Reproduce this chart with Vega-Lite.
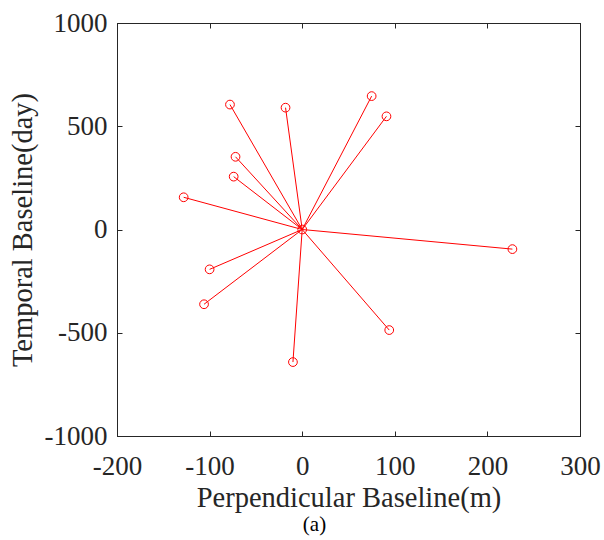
{
  "$schema": "https://vega.github.io/schema/vega-lite/v6.json",
  "width": 463,
  "height": 413,
  "autosize": {"type": "none"},
  "padding": {"left": 117, "top": 23, "right": 24, "bottom": 104},
  "background": "white",
  "config": {
    "view": {"stroke": "#262626", "strokeWidth": 1},
    "font": "Liberation Serif",
    "axis": {
      "grid": false,
      "domainColor": "#262626",
      "tickColor": "#262626",
      "tickSize": -5,
      "labelFlush": false,
      "labelOverlap": false,
      "labelExpr": "'' + datum.value",
      "labelFont": "Liberation Serif",
      "labelFontSize": 27,
      "labelColor": "#262626",
      "titleFont": "Liberation Serif",
      "titleFontSize": 28.5,
      "titleFontWeight": "normal",
      "titleColor": "#262626"
    }
  },
  "title": {
    "text": "(a)",
    "orient": "bottom",
    "frame": "group",
    "anchor": "middle",
    "dx": -34,
    "offset": 2,
    "font": "Liberation Serif",
    "fontSize": 21,
    "fontWeight": "normal",
    "color": "#000000"
  },
  "data": {
    "values": [
      {"bperp": 0, "btemp": 0},
      {"bperp": -78, "btemp": 605},
      {"bperp": -18, "btemp": 590},
      {"bperp": 75, "btemp": 646},
      {"bperp": 91, "btemp": 548},
      {"bperp": -72, "btemp": 352},
      {"bperp": -74, "btemp": 256},
      {"bperp": -128, "btemp": 156},
      {"bperp": 227, "btemp": -95},
      {"bperp": -100, "btemp": -193},
      {"bperp": -106, "btemp": -362},
      {"bperp": 94, "btemp": -487},
      {"bperp": -10, "btemp": -642}
    ]
  },
  "resolve": {"axis": {"x": "independent", "y": "independent"}},
  "layer": [
    {
      "mark": {"type": "rule", "color": "#ff0000", "strokeWidth": 1},
      "encoding": {
        "x": {
          "field": "bperp",
          "type": "quantitative",
          "scale": {"domain": [-200, 300], "nice": false},
          "axis": {
            "orient": "bottom",
            "values": [-200, -100, 0, 100, 200, 300],
            "labelPadding": 22,
            "title": "Perpendicular Baseline(m)",
            "titleBaseline": "alphabetic",
            "titleY": 70
          }
        },
        "y": {
          "field": "btemp",
          "type": "quantitative",
          "scale": {"domain": [-1000, 1000], "nice": false},
          "axis": {
            "orient": "left",
            "values": [-1000, -500, 0, 500, 1000],
            "labelPadding": 15,
            "title": "Temporal Baseline(day)",
            "titleBaseline": "alphabetic",
            "titleX": -86
          }
        },
        "x2": {"datum": 0},
        "y2": {"datum": 0}
      }
    },
    {
      "mark": {"type": "point", "shape": "circle", "filled": false, "color": "#ff0000", "size": 76, "strokeWidth": 1, "opacity": 1},
      "encoding": {
        "x": {
          "field": "bperp",
          "type": "quantitative",
          "axis": {"orient": "top", "values": [-200, -100, 0, 100, 200, 300], "labels": false, "title": null}
        },
        "y": {
          "field": "btemp",
          "type": "quantitative",
          "axis": {"orient": "right", "values": [-1000, -500, 0, 500, 1000], "labels": false, "title": null}
        }
      }
    }
  ]
}
